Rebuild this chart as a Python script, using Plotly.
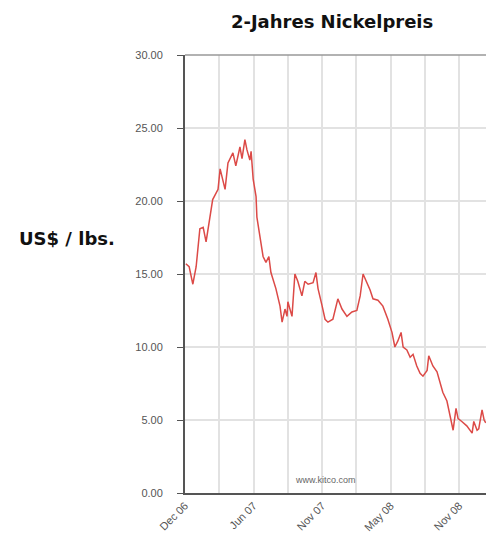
import plotly.graph_objects as go

# Nickel price (US$/lb)
dates = [
    "2006-12-10", "2006-12-18", "2006-12-27", "2007-01-04", "2007-01-13", "2007-01-21",
    "2007-01-28", "2007-02-04", "2007-02-13", "2007-02-26", "2007-03-03", "2007-03-15",
    "2007-03-22", "2007-04-03", "2007-04-10", "2007-04-20", "2007-04-25", "2007-05-02",
    "2007-05-07", "2007-05-14", "2007-05-17", "2007-05-22", "2007-05-29", "2007-05-31",
    "2007-06-07", "2007-06-15", "2007-06-22", "2007-06-29", "2007-07-04", "2007-07-16",
    "2007-07-26", "2007-07-31", "2007-08-07", "2007-08-12", "2007-08-14", "2007-08-24",
    "2007-08-31", "2007-09-07", "2007-09-17", "2007-09-24", "2007-10-02", "2007-10-14",
    "2007-10-21", "2007-10-26", "2007-11-05", "2007-11-12", "2007-11-19", "2007-12-01",
    "2007-12-13", "2007-12-23", "2008-01-04", "2008-01-16", "2008-01-28", "2008-02-05",
    "2008-02-12", "2008-02-21", "2008-02-29", "2008-03-07", "2008-03-19", "2008-03-31",
    "2008-04-12", "2008-04-22", "2008-04-29", "2008-05-06", "2008-05-14", "2008-05-19",
    "2008-05-28", "2008-06-05", "2008-06-12", "2008-06-21", "2008-06-29", "2008-07-06",
    "2008-07-16", "2008-07-20", "2008-07-30", "2008-08-09", "2008-08-16", "2008-08-23",
    "2008-09-02", "2008-09-09", "2008-09-17", "2008-09-24", "2008-09-29", "2008-10-08",
    "2008-10-20", "2008-11-02", "2008-11-06", "2008-11-14", "2008-11-18", "2008-11-26",
    "2008-12-01", "2008-12-05",
]
prices = [
    15.7, 15.5, 14.3, 15.5, 18.1, 18.2,
    17.2, 18.5, 20.1, 20.8, 22.2, 20.8,
    22.6, 23.3, 22.4, 23.7, 22.9, 24.2,
    23.5, 22.8, 23.4, 21.5, 20.3, 18.9,
    17.6, 16.2, 15.8, 16.2, 15.1, 14.0,
    12.8, 11.7, 12.6, 12.1, 13.1, 12.1,
    15.0, 14.5, 13.5, 14.5, 14.3, 14.4,
    15.1, 14.0, 12.8, 11.9, 11.7, 11.9,
    13.3, 12.6, 12.1, 12.4, 12.5, 13.5,
    15.0, 14.4, 13.9, 13.3, 13.2, 12.8,
    11.9, 11.0, 10.0, 10.4, 11.0, 10.0,
    9.8, 9.3, 9.5, 8.7, 8.2, 8.0,
    8.4, 9.4, 8.7, 8.3, 7.6, 6.9,
    6.3, 5.3, 4.3, 5.8, 5.1, 4.9,
    4.6, 4.1, 4.9, 4.3, 4.4, 5.7,
    5.0, 4.8,
]

grid_dates = ["2006-12-08", "2007-03-01", "2007-05-23", "2007-08-14", "2007-11-05",
              "2008-01-27", "2008-04-19", "2008-07-11", "2008-10-02"]
grid_labels = ["Dec 06", "", "Jun 07", "", "Nov 07", "", "May 08", "", "Nov 08"]
y_ticks = [0, 5, 10, 15, 20, 25, 30]
y_labels = ["0.00", "5.00", "10.00", "15.00", "20.00", "25.00", "30.00"]

fig = go.Figure()
fig.add_trace(go.Scatter(x=dates, y=prices, mode="lines",
                         line=dict(color="#dc4a47", width=1.5), hoverinfo="skip"))

fig.update_layout(
    width=494, height=538,
    margin=dict(l=177, r=15, t=47, b=51),
    paper_bgcolor="white", plot_bgcolor="white",
    showlegend=False,
    title=dict(text="<b>2-Jahres Nickelpreis</b>", x=0.656, xanchor="center",
               y=0.974, yanchor="middle",
               font=dict(family="DejaVu Sans", size=18, color="#111")),
    font=dict(family="Liberation Sans"),
)
fig.update_xaxes(
    type="date", range=["2006-12-08", "2008-12-08"],
    tickmode="array", tickvals=grid_dates, ticktext=grid_labels, tickangle=-45,
    tickfont=dict(size=11, color="#555"),
    showgrid=True, gridcolor="#e2e2e2", gridwidth=1.5,
    showline=True, linecolor="#555", linewidth=2, mirror=False,
    ticks="", zeroline=False,
)
fig.update_yaxes(
    range=[0, 30], tickmode="array", tickvals=y_ticks, ticktext=y_labels,
    tickfont=dict(size=11, color="#555"),
    showgrid=True, gridcolor="#e2e2e2", gridwidth=1.5,
    showline=True, linecolor="#555", linewidth=2,
    ticks="outside", ticklen=6, tickcolor="#555", ticklabelstandoff=12,
    zeroline=False,
)
# thin border on top and right
fig.add_shape(type="line", xref="paper", yref="paper", x0=0, x1=1, y0=1, y1=1,
              line=dict(color="#999", width=1.5))
fig.add_shape(type="line", xref="paper", yref="paper", x0=1, x1=1, y0=0, y1=1,
              line=dict(color="#999", width=1.5))

fig.add_annotation(text="<b>US$ / lbs.</b>", xref="paper", yref="paper", x=-0.556, y=0.58,
                   xanchor="left", yanchor="middle", showarrow=False,
                   font=dict(family="DejaVu Sans", size=18, color="#111"))
fig.add_annotation(text="www.kitco.com", xref="paper", yref="paper", x=0.464, y=0.03,
                   xanchor="center", yanchor="middle", showarrow=False,
                   font=dict(family="Liberation Sans", size=9, color="#666"))

fig.write_html("out.html")
